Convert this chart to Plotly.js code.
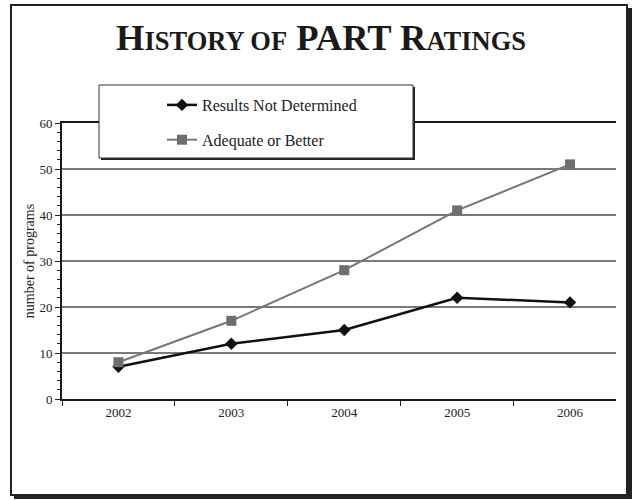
<!DOCTYPE html>
<html>
<head>
<meta charset="utf-8">
<script src="https://cdn.plot.ly/plotly-3.0.1.min.js"></script>
<style>html,body{margin:0;padding:0;background:#fff;}#chart{width:632px;height:500px;}</style>
</head>
<body>
<div id="chart"></div>
<script>
// ---- data ----
const years = ['2002', '2003', '2004', '2005', '2006'];
const resultsNotDetermined = [7, 12, 15, 22, 21];
const adequateOrBetter = [8, 17, 28, 41, 51];
const seriesNames = ['Results Not Determined', 'Adequate or Better'];
const yTickValues = [0, 10, 20, 30, 40, 50, 60];

// ---- layout helpers ----
const W = 632, H = 500;
const M = {l: 62, r: 16, t: 123, b: 101};
const pw = W - M.l - M.r, ph = H - M.t - M.b;
const fx = px => (px - M.l) / pw;
const fy = py => (H - M.b - py) / ph;
const SERIF = 'Liberation Serif, Times New Roman, serif';

const traces = [
  {
    x: years, y: resultsNotDetermined, name: seriesNames[0],
    type: 'scatter', mode: 'lines+markers', legendgroup: 'a',
    line: {color: '#111111', width: 2.5},
    marker: {symbol: 'diamond', size: 9.5, color: '#111111'}
  },
  {
    x: years, y: adequateOrBetter, name: seriesNames[1],
    type: 'scatter', mode: 'lines+markers', legendgroup: 'b',
    line: {color: '#777777', width: 2},
    marker: {symbol: 'square', size: 10, color: '#6e6e70'}
  }
];

const layout = {
  width: W, height: H,
  margin: M,
  paper_bgcolor: '#ffffff',
  plot_bgcolor: 'rgba(0,0,0,0)',
  font: {family: SERIF, color: '#222222', size: 13},
  showlegend: true,
  title: {
    text: 'H<span style="font-size:26.5px">ISTORY OF</span> PART R<span style="font-size:26.5px">ATINGS</span>',
    font: {family: SERIF, size: 36.5, color: '#1a1a1a', weight: 'bold'},
    xref: 'container', x: 0.508, xanchor: 'center',
    yref: 'container', y: 1 - 37 / H, yanchor: 'middle'
  },
  legend: {
    x: fx(162), y: fy(88), xanchor: 'left', yanchor: 'top',
    bgcolor: 'rgba(0,0,0,0)', borderwidth: 0,
    font: {family: SERIF, size: 16, color: '#222222'},
    traceorder: 'grouped', tracegroupgap: 11
  },
  xaxis: {
    type: 'category',
    range: [-0.5, 4.407],
    tickson: 'boundaries',
    ticks: 'outside', ticklen: 5, tickwidth: 1, tickcolor: '#222222',
    showline: true, linecolor: '#1a1a1a', linewidth: 2, mirror: true,
    showgrid: false, zeroline: false,
    tickfont: {family: SERIF, size: 13, color: '#222222'},
    fixedrange: true
  },
  yaxis: {
    range: [0, 60],
    tickvals: yTickValues,
    ticks: 'outside', ticklen: 5, tickwidth: 1, tickcolor: '#222222',
    minor: {dtick: 2, ticks: 'outside', ticklen: 3, tickwidth: 1, tickcolor: '#222222', showgrid: false},
    showline: true, linecolor: '#1a1a1a', linewidth: 2,
    showgrid: true, gridcolor: '#7a7a7a', gridwidth: 1.3,
    zeroline: false,
    tickfont: {family: SERIF, size: 13, color: '#222222'},
    title: {text: 'number of programs', font: {family: SERIF, size: 14, color: '#222222'}, standoff: 2},
    fixedrange: true
  },
  shapes: [
    // outer frame shadow
    {type: 'rect', xref: 'paper', yref: 'paper', layer: 'below',
     x0: fx(14), x1: fx(632), y0: fy(499), y1: fy(8),
     fillcolor: '#222222', line: {width: 0}},
    // outer frame
    {type: 'rect', xref: 'paper', yref: 'paper', layer: 'below',
     x0: fx(11), x1: fx(627), y0: fy(495), y1: fy(5),
     fillcolor: '#ffffff', line: {color: '#222222', width: 2}},
    // legend box shadow
    {type: 'rect', xref: 'paper', yref: 'paper', layer: 'above',
     x0: fx(101), x1: fx(415), y0: fy(160), y1: fy(87),
     fillcolor: '#222222', line: {width: 0}},
    // legend box
    {type: 'rect', xref: 'paper', yref: 'paper', layer: 'above',
     x0: fx(99), x1: fx(413), y0: fy(158), y1: fy(85),
     fillcolor: '#ffffff', line: {color: '#333333', width: 1}}
  ]
};

Plotly.newPlot('chart', traces, layout, {displayModeBar: false, staticPlot: true});
</script>
</body>
</html>
